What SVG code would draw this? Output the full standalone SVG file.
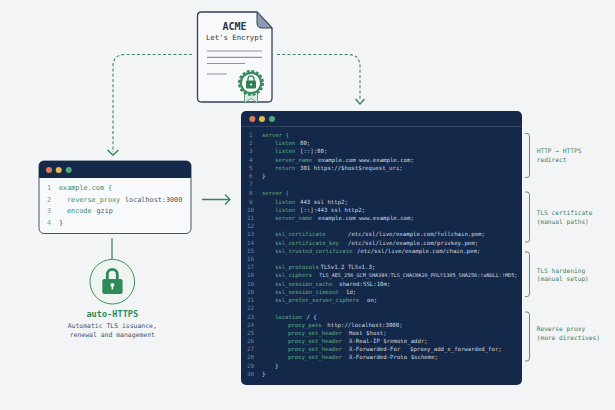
<svg xmlns="http://www.w3.org/2000/svg" width="615" height="410" viewBox="0 0 615 410">
<style>
text{font-family:"DejaVu Sans Mono","Liberation Mono",monospace;white-space:pre}
.c text{font-size:5.7px;fill:#cfd7e0}
.c .n{fill:#73859b;font-size:5.9px}
.c .k{fill:#62a985;font-size:5.6px}
.w text{font-size:6.8px;fill:#46546a}
.w .n{fill:#8b95a3}
.w .k{fill:#3f8a63}
.lb{font-size:6.2px;fill:#3f7f60}
.dash{fill:none;stroke:#3a8a5e;stroke-width:1.100;stroke-dasharray:3 2.200}
.arr{fill:none;stroke:#33845a;stroke-width:1.300}
.br{fill:none;stroke:#5f9379;stroke-width:1}
.ln{stroke:#8a94a3;stroke-width:1.200}
</style>
<rect width="615" height="410" fill="#f3f4f6"/>
<g id="connectors">
<path class="dash" d="M192 54.500H125Q113 54.500 113 66.500V152"/>
<path class="arr" d="M107.500 150L113 155L118.500 150"/>
<path class="dash" d="M277 54.500H348Q360 54.500 360 66.500V100"/>
<path class="arr" d="M355.500 99L360 104L364.500 99"/>
<path class="arr" d="M202 199.500H229M225 194.500L230 199.500L225 204.500"/>
<path d="M112 238V259" stroke="#2f7f58" stroke-width="1.200" fill="none"/>
</g>
<g id="acme-cert">
<path d="M201.500 12H257L272 28V98Q272 102 268 102H201.500Q197.500 102 197.500 98V16Q197.500 12 201.500 12Z" fill="#f8f9fa" stroke="#33415c" stroke-width="1.300"/>
<path d="M257 12L272 28H262Q257 28 257 23Z" fill="#8f9bb0" stroke="#33415c" stroke-width="1"/>
<text x="234.500" y="30" text-anchor="middle" font-size="10" font-weight="700" fill="#2b3648">ACME</text>
<text x="234.500" y="40" text-anchor="middle" font-size="7.300" fill="#2b3648">Let's Encrypt</text>
<path class="ln" d="M207 51H262M207 57.300H262M207 63.500H245M207 74H227"/>
<path d="M244.500 92V103L251 98.500L257.500 103V92Z" fill="#d8ebe0" stroke="#3f8f63" stroke-width="0.800"/>
<circle cx="251" cy="83" r="12" fill="#f8f9fa" stroke="#3a8a5e" stroke-width="2" stroke-dasharray="3 1.710"/>
<circle cx="251" cy="83" r="10.200" fill="#f8f9fa" stroke="#3a8a5e" stroke-width="2.200"/>
<path d="M248 81V78.800A3 3 0 0 1 254 78.800V81" fill="none" stroke="#2f7f58" stroke-width="1.300"/>
<rect x="246" y="80.500" width="10" height="8" rx="1" fill="#2f7f58"/>
<circle cx="251" cy="84.500" r="1.100" fill="#f8f9fa"/>
</g>
<g id="caddy-window" class="w">
<rect x="39" y="161" width="152" height="72.500" rx="5" fill="#f8f9fa" stroke="#44526a" stroke-width="1"/>
<path d="M39 178V166Q39 161 44 161H186Q191 161 191 166V178Z" fill="#14294a"/>
<circle cx="49" cy="170" r="3" fill="#dd7a5a"/><circle cx="58.700" cy="170" r="3" fill="#e7b94f"/><circle cx="68.700" cy="170" r="3" fill="#55a57e"/>
<text class="n" x="47" y="189.500">1</text><text class="k" x="59" y="189.500">example.com {</text>
<text class="n" x="47" y="201.500">2</text><text class="k" x="67" y="201.500">reverse_proxy</text><text x="125" y="201.500">localhost:3000</text>
<text class="n" x="47" y="213">3</text><text class="k" x="67" y="213">encode</text><text x="96.500" y="213">gzip</text>
<text class="n" x="47" y="224.500">4</text><text x="59" y="224.500">}</text>
</g>
<g id="auto-https">
<circle cx="112.300" cy="281.700" r="22.300" fill="#eff4f1" stroke="#3f8f63" stroke-width="1"/>
<path d="M107.300 280V274.400A5 5 0 0 1 117.300 274.400V280" fill="none" stroke="#2f8a5a" stroke-width="2.800"/>
<rect x="102.300" y="279" width="20.300" height="15" rx="2" fill="#2f8a5a"/>
<circle cx="112.400" cy="285" r="2" fill="#eff4f1"/><rect x="111.600" y="285" width="1.600" height="4.500" fill="#eff4f1"/>
<text x="112.300" y="317" text-anchor="middle" font-size="8.600" font-weight="700" fill="#2f8a5a">auto-HTTPS</text>
<text x="112.300" y="328" text-anchor="middle" font-size="6.450" fill="#46546a">Automatic TLS issuance,</text>
<text x="112.300" y="336.700" text-anchor="middle" font-size="6.450" fill="#46546a">renewal and management</text>
</g>
<g id="nginx-window" class="c">
<rect x="241" y="111" width="281" height="274" rx="5" fill="#14294a"/>
<path d="M241 126.500H522" stroke="#3a4c69" stroke-width="0.800"/>
<circle cx="252.300" cy="119" r="3" fill="#dd7a5a"/><circle cx="262" cy="119" r="3" fill="#e7b94f"/><circle cx="272" cy="119" r="3" fill="#55a57e"/>
<text class="n" x="249" y="137">1</text><text class="k" x="262" y="137">server {</text>
<text class="n" x="249" y="145.200">2</text><text class="k" x="275" y="145.200">listen</text><text x="300" y="145.200">80;</text>
<text class="n" x="249" y="153.400">3</text><text class="k" x="275" y="153.400">listen</text><text x="300" y="153.400">[::]:80;</text>
<text class="n" x="249" y="161.500">4</text><text class="k" x="275" y="161.500">server_name</text><text x="318" y="161.500">example.com www.example.com;</text>
<text class="n" x="249" y="169.700">5</text><text class="k" x="275" y="169.700">return</text><text x="300" y="169.700">301 https://$host$request_uri;</text>
<text class="n" x="249" y="178">6</text><text x="262" y="178">}</text>
<text class="n" x="249" y="186">7</text>
<text class="n" x="249" y="195">8</text><text class="k" x="262" y="195">server {</text>
<text class="n" x="249" y="203.500">9</text><text class="k" x="275" y="203.500">listen</text><text x="300" y="203.500">443 ssl http2;</text>
<text class="n" x="247" y="211.700">10</text><text class="k" x="275" y="211.700">listen</text><text x="300" y="211.700">[::]:443 ssl http2;</text>
<text class="n" x="247" y="219.900">11</text><text class="k" x="275" y="219.900">server_name</text><text x="318" y="219.900">example.com www.example.com;</text>
<text class="n" x="247" y="228">12</text>
<text class="n" x="247" y="236.300">13</text><text class="k" x="275" y="236.300">ssl_certificate</text><text x="348" y="236.300">/etc/ssl/live/example.com/fullchain.pem;</text>
<text class="n" x="247" y="244.500">14</text><text class="k" x="275" y="244.500">ssl_certificate_key</text><text x="348" y="244.500">/etc/ssl/live/example.com/privkey.pem;</text>
<text class="n" x="247" y="252.700">15</text><text class="k" x="275" y="252.700">ssl_trusted_certificate</text><text x="357" y="252.700">/etc/ssl/live/example.com/chain.pem;</text>
<text class="n" x="247" y="260.900">16</text>
<text class="n" x="247" y="269.100">17</text><text class="k" x="275" y="269.100">ssl_protocols</text><text x="320.500" y="269.100">TLSv1.2 TLSv1.3;</text>
<text class="n" x="247" y="277.300">18</text><text class="k" x="275" y="277.300">ssl_ciphers</text><text x="319.300" y="277.300" style="font-size:5.150px">TLS_AES_256_GCM_SHA384:TLS_CHACHA20_POLY1305_SHA256:!aNULL:!MD5;</text>
<text class="n" x="247" y="285.500">19</text><text class="k" x="275" y="285.500">ssl_session_cache</text><text x="339" y="285.500">shared:SSL:10m;</text>
<text class="n" x="247" y="293.700">20</text><text class="k" x="275" y="293.700">ssl_session_timeout</text><text x="346" y="293.700">1d;</text>
<text class="n" x="247" y="302">21</text><text class="k" x="275" y="302">ssl_prefer_server_ciphers</text><text x="367" y="302">on;</text>
<text class="n" x="247" y="310.300">22</text>
<text class="n" x="247" y="318.500">23</text><text class="k" x="275" y="318.500">location</text><text x="306.500" y="318.500">/ {</text>
<text class="n" x="247" y="326.500">24</text><text class="k" x="288" y="326.500">proxy_pass</text><text x="327.300" y="326.500">http://localhost:3000;</text>
<text class="n" x="247" y="334.700">25</text><text class="k" x="288" y="334.700">proxy_set_header</text><text x="349" y="334.700">Host $host;</text>
<text class="n" x="247" y="342.900">26</text><text class="k" x="288" y="342.900">proxy_set_header</text><text x="349" y="342.900">X-Real-IP $remote_addr;</text>
<text class="n" x="247" y="351.200">27</text><text class="k" x="288" y="351.200">proxy_set_header</text><text x="349" y="351.200">X-Forwarded-For</text><text x="410" y="351.200" style="font-size:5.650px">$proxy_add_x_forwarded_for;</text>
<text class="n" x="247" y="359.400">28</text><text class="k" x="288" y="359.400">proxy_set_header</text><text x="349" y="359.400">X-Forwarded-Proto $scheme;</text>
<text class="n" x="247" y="367.500">29</text><text x="275" y="367.500">}</text>
<text class="n" x="247" y="375.500">30</text><text x="262" y="375.500">}</text>
</g>
<g id="annotation-redirect">
<path class="br" d="M525 133.500H527Q529.500 133.500 529.500 136V175Q529.500 177.500 527 177.500H525"/>
<text class="lb" x="536.700" y="153">HTTP → HTTPS</text><text class="lb" x="536.700" y="162">redirect</text>
</g>
<g id="annotation-cert">
<path class="br" d="M525 192H527Q529.500 192 529.500 194.500V239.500Q529.500 242 527 242H525"/>
<text class="lb" x="536.700" y="215">TLS certificate</text><text class="lb" x="536.700" y="224">(manual paths)</text>
</g>
<g id="annotation-hardening">
<path class="br" d="M525 252H527Q529.500 252 529.500 254.500V294Q529.500 296.500 527 296.500H525"/>
<text class="lb" x="536.700" y="272.500">TLS hardening</text><text class="lb" x="536.700" y="281">(manual setup)</text>
</g>
<g id="annotation-proxy">
<path class="br" d="M525 312H527Q529.500 312 529.500 314.500V358Q529.500 361 527 361H525"/>
<text class="lb" x="536.700" y="331">Reverse proxy</text><text class="lb" x="536.700" y="339.500">(more directives)</text>
</g>
</svg>
